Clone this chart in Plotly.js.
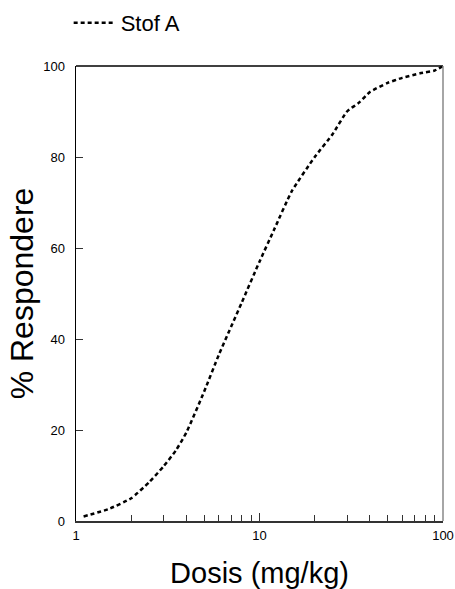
<!DOCTYPE html>
<html>
<head>
<meta charset="utf-8">
<script src="https://cdn.plot.ly/plotly-3.0.1.min.js"></script>
<style>html,body{margin:0;padding:0;background:#fff;}#chart{width:455px;height:589px;}</style>
</head>
<body>
<div id="chart"></div>
<script>
const seriesName = "Stof A";
const dose = [1.1, 1.5, 2, 2.5, 3, 3.5, 4, 5, 6, 8, 10, 12, 15, 20, 25, 30, 35, 40, 50, 60, 75, 90, 100];
const responders = [1, 2.6, 5, 8.5, 12, 15.5, 19.5, 28.5, 36.5, 48, 57, 64, 72.5, 80, 85, 90, 92, 94.3, 96.3, 97.4, 98.4, 99, 100];
const xTickVals = [1, 10, 100];
const xTickText = ["1", "10", "100"];
const xMinorVals = [2,3,4,5,6,7,8,9,20,30,40,50,60,70,80,90];
const yTickVals = [0, 20, 40, 60, 80, 100];

const trace = {
  x: dose, y: responders, type: 'scatter', mode: 'lines', name: seriesName,
  line: {color: '#000', width: 2.5, dash: '4px,3px', shape: 'spline', smoothing: 0.5},
  cliponaxis: false
};
const layout = {
  width: 455, height: 589,
  margin: {l: 76, r: 12, t: 66, b: 68, autoexpand: false},
  paper_bgcolor: '#fff', plot_bgcolor: '#fff',
  font: {family: 'Liberation Sans, Arial, sans-serif', color: '#000'},
  showlegend: true,
  legend: {orientation: 'h', x: -0.02, xanchor: 'left', y: 1.0945, yanchor: 'middle', itemwidth: 42,
           font: {size: 22}, bgcolor: 'rgba(0,0,0,0)'},
  xaxis: {
    type: 'log', range: [0, 2], tickmode: 'array', tickvals: xTickVals, ticktext: xTickText,
    ticks: 'inside', ticklen: 8, tickcolor: '#333', showgrid: false, zeroline: false,
    showline: true, linecolor: '#333', linewidth: 1.5, mirror: false, automargin: false,
    tickfont: {size: 13}, ticklabelstandoff: 2,
    minor: {tickmode: 'array', tickvals: xMinorVals, ticks: 'inside', ticklen: 6, tickcolor: '#333', showgrid: false},
    title: {text: 'Dosis (mg/kg)', font: {size: 29}, standoff: 22}
  },
  yaxis: {
    range: [0, 100], tickmode: 'array', tickvals: yTickVals, automargin: false,
    ticks: 'inside', ticklen: 7, tickcolor: '#333', showgrid: false, zeroline: false,
    showline: true, linecolor: '#000', linewidth: 1.5,
    tickfont: {size: 13}, ticklabelstandoff: 7,
    title: {text: '% Respondere', font: {size: 32}, standoff: 0}
  },
  shapes: [
    {type: 'line', xref: 'paper', yref: 'paper', x0: 0, x1: 1, y0: 1, y1: 1, line: {color: '#000', width: 1.5}},
    {type: 'line', xref: 'paper', yref: 'paper', x0: 1, x1: 1, y0: 0, y1: 1, line: {color: '#888', width: 1.5}}
  ]
};
Plotly.newPlot('chart', [trace], layout, {displayModeBar: false, staticPlot: true});
</script>
</body>
</html>
